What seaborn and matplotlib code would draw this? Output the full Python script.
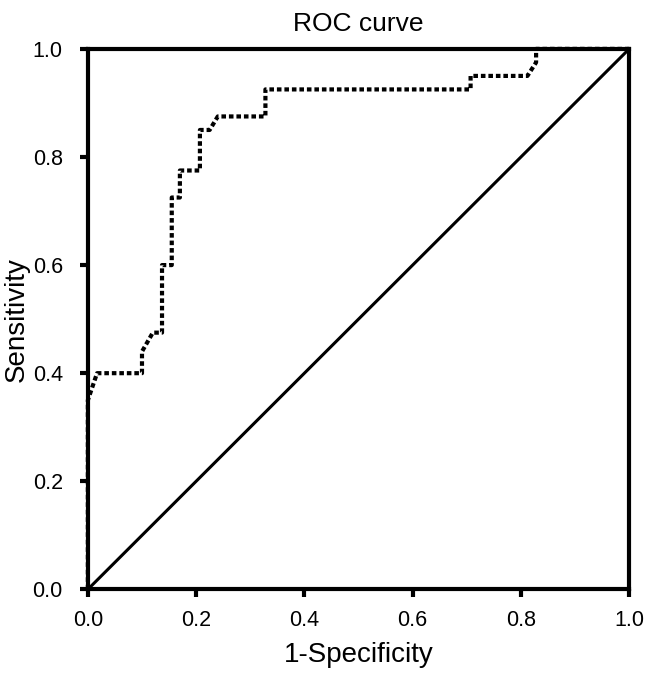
import pandas as pd
import seaborn as sns
import matplotlib.pyplot as plt

# ROC curve points (1-specificity, sensitivity)
fpr = [0.0, 0.0, 0.017, 0.10, 0.10, 0.12, 0.137, 0.137, 0.155, 0.155, 0.17, 0.17,
       0.207, 0.207, 0.225, 0.24, 0.328, 0.328, 0.707, 0.707, 0.812, 0.828, 0.828, 1.0]
tpr = [0.0, 0.35, 0.40, 0.40, 0.44, 0.475, 0.475, 0.60, 0.60, 0.725, 0.725, 0.775,
       0.775, 0.85, 0.85, 0.875, 0.875, 0.925, 0.925, 0.95, 0.95, 0.975, 1.0, 1.0]
ref_line = [0.0, 1.0]
ticks = [0.0, 0.2, 0.4, 0.6, 0.8, 1.0]

sns.set_style("white")
plt.rcParams["font.family"] = ["Liberation Sans", "DejaVu Sans"]
plt.rcParams.update({"text.color": "black", "axes.labelcolor": "black",
                     "xtick.color": "black", "ytick.color": "black"})

df = pd.DataFrame({"fpr": fpr, "tpr": tpr})

fig = plt.figure(figsize=(6.46, 6.79), dpi=100)
ax = fig.add_axes([0.136, 0.132, 0.838, 0.796])

# --- diagonal reference and ROC curve ---
sns.lineplot(x=ref_line, y=ref_line, color="black", linewidth=2.2, ax=ax)
sns.lineplot(data=df, x="fpr", y="tpr", sort=False, estimator=None,
             color="black", linewidth=3.0, linestyle=(0, (1.1, 0.7)),
             clip_on=False, ax=ax)

ax.set_xlim(0, 1)
ax.set_ylim(0, 1)
ax.set_xticks(ticks)
ax.set_yticks(ticks)
ax.set_xticklabels([f"{t:.1f}" for t in ticks], fontsize=15.5)
ax.set_yticklabels([f"{t:.1f}" for t in ticks], fontsize=15.5)
ax.tick_params(axis="x", direction="out", length=6, width=3, color="black",
               labelcolor="black", pad=9, bottom=True)
ax.tick_params(axis="y", direction="out", length=6, width=3, color="black",
               labelcolor="black", pad=12, left=True)

for side in ["left", "right", "top", "bottom"]:
    ax.spines[side].set_visible(True)
    ax.spines[side].set_color("black")
    ax.spines[side].set_linewidth(3)

ax.set_title("ROC curve", fontsize=19, pad=13, color="black")
ax.set_xlabel("1-Specificity", fontsize=20, labelpad=8, color="black")
ax.set_ylabel("Sensitivity", fontsize=20, labelpad=2, color="black")

plt.savefig("out.png", dpi=100)
